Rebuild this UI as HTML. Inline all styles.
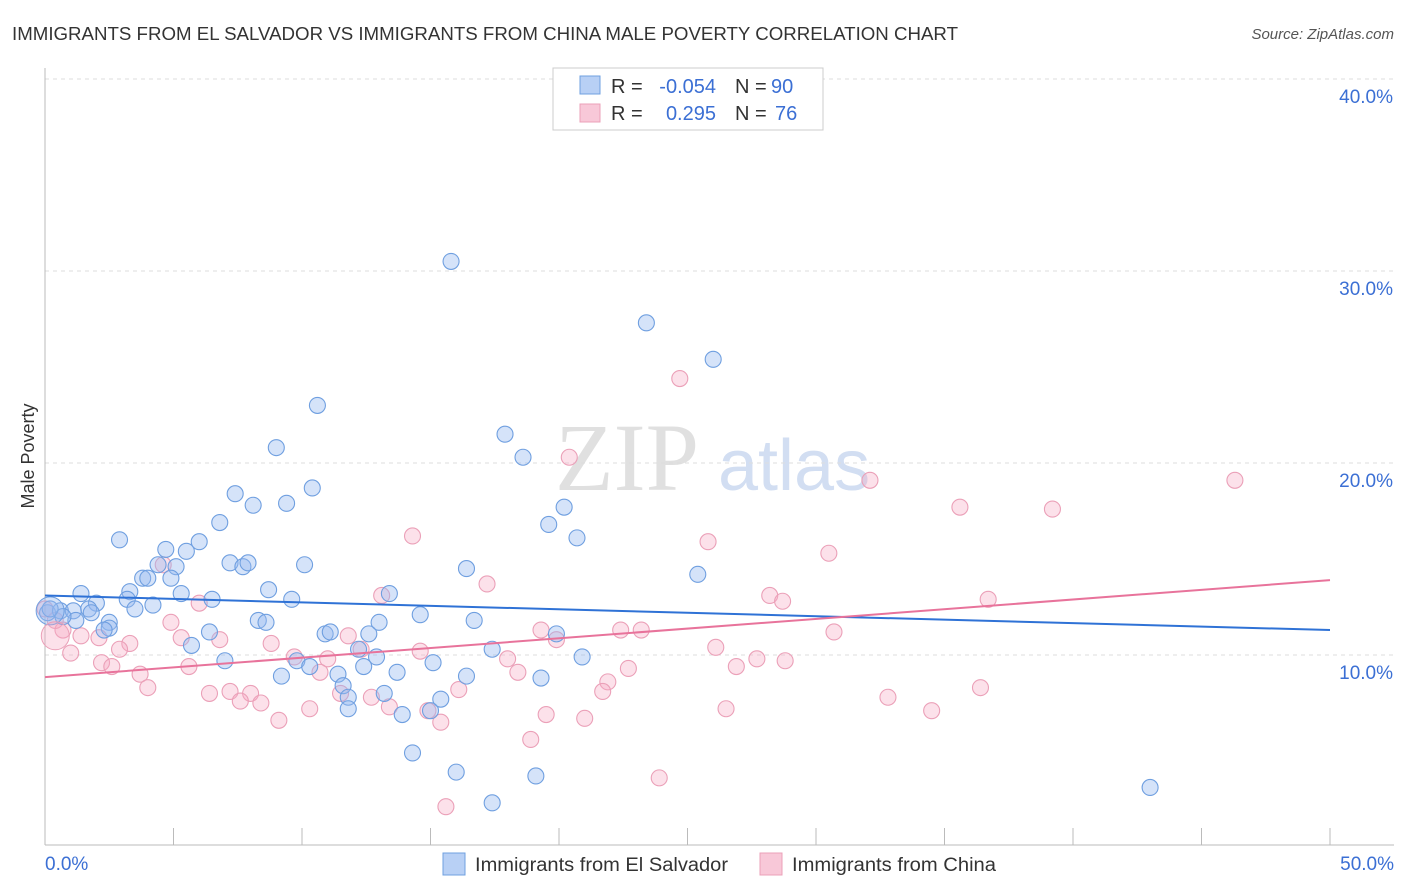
<!DOCTYPE html>
<html><head><meta charset="utf-8"><style>
body{margin:0;background:#fff;font-family:"Liberation Sans",sans-serif;}
svg{display:block}
</style></head><body>
<svg id="chart" width="1406" height="892">
<text x="12" y="40" font-size="18" fill="#333" textLength="946" lengthAdjust="spacingAndGlyphs">IMMIGRANTS FROM EL SALVADOR VS IMMIGRANTS FROM CHINA MALE POVERTY CORRELATION CHART</text>
<text x="1394" y="39" font-size="15" fill="#555" font-style="italic" text-anchor="end">Source: ZipAtlas.com</text>
<text x="34" y="456" font-size="18" fill="#333" transform="rotate(-90 34 456)" text-anchor="middle">Male Poverty</text>
<g><text x="555" y="490" font-size="96" fill="#e0e0e0" font-family="Liberation Serif,serif">ZIP</text><text x="718" y="490" font-size="72" fill="#d2def2">atlas</text></g>
<g id="grid"></g><g id="marks"></g>
<g>
<rect x="553" y="68" width="270" height="62" fill="#fff" stroke="#ccc"/>
<rect x="580" y="76" width="20" height="18" fill="#b8d0f5" stroke="#6fa0e0"/>
<rect x="580" y="104" width="20" height="18" fill="#f8c8d8" stroke="#eba0b8"/>
<text x="611" y="93" font-size="20" fill="#333">R =</text>
<text x="716" y="93" font-size="20" fill="#3b6fd4" text-anchor="end">-0.054</text>
<text x="735" y="93" font-size="20" fill="#333">N =</text>
<text x="771" y="93" font-size="20" fill="#3b6fd4">90</text>
<text x="611" y="120" font-size="20" fill="#333">R =</text>
<text x="716" y="120" font-size="20" fill="#3b6fd4" text-anchor="end">0.295</text>
<text x="735" y="120" font-size="20" fill="#333">N =</text>
<text x="775" y="120" font-size="20" fill="#3b6fd4">76</text>
</g>
<g>
<rect x="443" y="853" width="22" height="22" fill="#b8d0f5" stroke="#6fa0e0"/>
<text x="475" y="871" font-size="19" fill="#333" textLength="253" lengthAdjust="spacingAndGlyphs">Immigrants from El Salvador</text>
<rect x="760" y="853" width="22" height="22" fill="#f8c8d8" stroke="#eba0b8"/>
<text x="792" y="871" font-size="19" fill="#333" textLength="204" lengthAdjust="spacingAndGlyphs">Immigrants from China</text>
</g>
</svg>
<script>
const xTicks=[0,5,10,15,20,25,30,35,40,45,50];
const yTicks=[10,20,30,40];
const blueX=[15.8,23.4,26.0,10.6,17.9,9.0,18.6,10.4,7.4,8.1,9.4,20.2,19.6,6.8,2.9,20.7,6.0,5.5,4.7,4.4,5.1,7.2,7.7,7.9,10.1,16.4,25.4,3.8,4.0,4.9,3.3,1.4,5.3,3.2,2.0,8.7,9.6,6.5,4.2,13.4,3.5,1.7,0.1,0.6,1.1,1.8,8.3,8.6,2.5,2.5,2.3,1.2,0.7,14.6,16.7,13.0,6.4,10.9,11.1,12.6,19.9,5.7,17.4,12.2,12.9,20.9,9.8,7.0,15.1,10.3,12.4,13.7,9.2,16.4,11.4,19.3,11.6,11.8,13.2,15.4,11.8,13.9,15.0,14.3,16.0,19.1,17.4,43.0,0.2];
const blueY=[30.5,27.3,25.4,23.0,21.5,20.8,20.3,18.7,18.4,17.8,17.9,17.7,16.8,16.9,16.0,16.1,15.9,15.4,15.5,14.7,14.6,14.8,14.6,14.8,14.7,14.5,14.2,14.0,14.0,14.0,13.3,13.2,13.2,12.9,12.7,13.4,12.9,12.9,12.6,13.2,12.4,12.4,12.2,12.3,12.3,12.2,11.8,11.7,11.7,11.4,11.3,11.8,12.0,12.1,11.8,11.7,11.2,11.1,11.2,11.1,11.1,10.5,10.3,10.3,9.9,9.9,9.7,9.7,9.6,9.4,9.4,9.1,8.9,8.9,9.0,8.8,8.4,7.8,8.0,7.7,7.2,6.9,7.1,4.9,3.9,3.7,2.3,3.1,12.4];
const pinkX=[24.7,20.4,32.1,46.3,35.6,39.2,14.3,25.8,30.5,4.6,17.2,13.1,28.2,28.7,36.7,6.0,4.9,19.3,19.9,22.4,23.2,30.7,5.3,6.8,3.3,2.9,8.8,2.1,1.4,0.7,0.0,0.4,1.0,2.2,2.6,5.6,9.7,11.0,11.8,12.3,14.6,18.0,26.1,28.8,27.7,26.9,22.7,18.4,10.7,3.7,4.0,6.4,7.2,8.0,8.4,7.6,11.5,12.7,13.4,16.1,21.9,21.7,10.3,9.1,14.9,15.4,19.5,21.0,26.5,32.8,34.5,36.4,18.9,23.9,15.6];
const pinkY=[24.4,20.3,19.1,19.1,17.7,17.6,16.2,15.9,15.3,14.7,13.7,13.1,13.1,12.8,12.9,12.7,11.7,11.3,10.8,11.3,11.3,11.2,10.9,10.8,10.6,10.3,10.6,10.9,11.0,11.3,12.4,11.8,10.1,9.6,9.4,9.4,9.9,9.8,11.0,10.3,10.2,9.8,10.4,9.7,9.8,9.4,9.3,9.1,9.1,9.0,8.3,8.0,8.1,8.0,7.5,7.6,8.0,7.8,7.3,8.2,8.6,8.1,7.2,6.6,7.1,6.5,6.9,6.7,7.2,7.8,7.1,8.3,5.6,3.6,2.1];
const blueTrend=[13.1,11.3];
const pinkTrend=[8.85,13.9];
const NS='http://www.w3.org/2000/svg';
const xs=v=>45+v/50*1285;
const ys=v=>847-v*19.2;
function mk(tag,attrs,parent){const e=document.createElementNS(NS,tag);for(const k in attrs)e.setAttribute(k,attrs[k]);parent.appendChild(e);return e;}
const grid=document.getElementById('grid'),marks=document.getElementById('marks');
yTicks.forEach(t=>{
 const l=mk('line',{x1:45,x2:1394,y1:ys(t),y2:ys(t),stroke:'#ddd','stroke-dasharray':'4,4'},grid);
 
 
 const tx=mk('text',{x:1393,y:ys(t)+24,'font-size':19,fill:'#3b6fd4','text-anchor':'end'},grid);
 tx.textContent=t.toFixed(1)+'%';
 
 
});
mk('line',{x1:45,x2:45,y1:68,y2:845,stroke:'#bbb'},grid);
mk('line',{x1:45,x2:1394,y1:845,y2:845,stroke:'#bbb'},grid);
xTicks.forEach(t=>{
 const l=mk('line',{x1:xs(t),x2:xs(t),y1:828,y2:845,stroke:'#bbb'},grid);
 
 
});
[[0,'0.0%','start',45],[50,'50.0%','end',1394]].forEach(a=>{
 const tx=mk('text',{x:a[3],y:870,'font-size':19,fill:'#3b6fd4','text-anchor':a[2]},grid);
 tx.textContent=a[1];
 
 
});
function pts(X,Y,fill,stroke,name){
 X.forEach((x,i)=>{
  const c=mk('circle',{cx:xs(x),cy:ys(Y[i]),r:8,fill:fill,stroke:stroke,'stroke-width':1.1},marks);
  
  
 });
}
pts(pinkX,pinkY,'rgba(245,170,195,0.35)','#eba0b8','china-point');
pts(blueX,blueY,'rgba(150,185,240,0.4)','#6f9fe0','el-salvador-point');
const big1=mk('circle',{cx:xs(0.2),cy:ys(12.3),r:14,fill:'rgba(150,185,240,0.4)',stroke:'#6f9fe0'},marks);


const big2=mk('circle',{cx:xs(0.4),cy:ys(11.0),r:14,fill:'rgba(245,170,195,0.35)',stroke:'#eba0b8'},marks);


const bl=mk('line',{x1:xs(0),y1:ys(blueTrend[0]),x2:xs(50),y2:ys(blueTrend[1]),stroke:'#2f72d6','stroke-width':2},marks);


const pl=mk('line',{x1:xs(0),y1:ys(pinkTrend[0]),x2:xs(50),y2:ys(pinkTrend[1]),stroke:'#e8739b','stroke-width':2},marks);


</script>
</body></html>
